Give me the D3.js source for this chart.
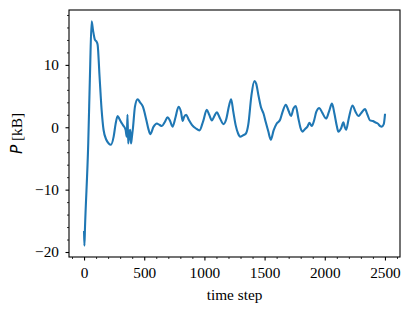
<!DOCTYPE html>
<html>
<head>
<meta charset="utf-8">
<script src="https://cdn.jsdelivr.net/npm/d3@7"></script>
<style>
  html, body { margin: 0; padding: 0; background: #fff; }
  svg { display: block; }
</style>
</head>
<body>
<div id="chart"></div>
<script>
// time steps and pressure (kB)
const steps = [0, 3, 8, 35, 50, 63, 75, 91, 105, 113, 129, 146, 162, 185, 205, 223, 246, 262, 279, 295,
  306, 325, 345, 355, 361, 367, 375, 384, 390, 398, 406, 423, 445, 465, 489, 517, 535, 550, 578, 605,
  625, 647, 670, 694, 715, 735, 760, 785, 805, 820, 830, 849, 870, 896, 930, 959, 990, 1020, 1040, 1062,
  1083, 1103, 1130, 1158, 1180, 1205, 1222, 1240, 1260, 1280, 1297, 1320, 1345, 1365, 1390, 1415, 1430, 1450, 1470, 1491,
  1510, 1530, 1552, 1575, 1601, 1629, 1650, 1676, 1700, 1720, 1740, 1759, 1780, 1800, 1814, 1835, 1856, 1872, 1892, 1910,
  1930, 1955, 1980, 2011, 2035, 2060, 2080, 2100, 2113, 2135, 2155, 2165, 2177, 2200, 2230, 2255, 2279, 2300, 2334, 2355,
  2376, 2400, 2418, 2440, 2460, 2473, 2490, 2500];
const pressure = [-16.8, -19.0, -16.0, -2.5, 9.0, 17.0, 15.5, 14.0, 13.7, 13.2, 8.1, 2.8, -0.4, -2.0, -2.6, -2.8, -1.5, 0.5, 1.8, 1.3,
  0.9, 0.3, -0.4, -1.5, 2.0, -2.6, -1.0, -0.4, -2.6, -1.5, -0.2, 3.3, 4.5, 4.0, 3.3, 1.2, -0.3, -1.1, 0.1, 0.6,
  0.4, 0.2, 0.8, 1.6, 1.0, 0.1, 1.6, 3.3, 2.5, 1.0, 1.6, 2.0, 1.2, 0.4, -0.2, -0.5, 1.0, 2.8, 2.0, 1.1,
  1.8, 2.4, 1.4, 0.5, 1.2, 3.5, 4.5, 2.5, 0.3, -1.0, -1.5, -1.3, -1.0, 0.5, 5.0, 7.4, 7.0, 5.0, 3.2, 2.2,
  0.8, -0.6, -2.0, -0.5, 0.6, 1.2, 2.5, 3.6, 2.6, 1.8, 3.0, 3.4, 1.5, -0.2, -0.7, -0.3, 0.1, 0.7, 0.2, 1.0,
  2.5, 3.1, 2.3, 1.4, 2.5, 3.8, 2.2, 0.2, -0.7, -0.2, 0.8, 0.1, -0.4, 1.5, 3.5, 2.5, 1.8, 2.2, 2.9, 2.0,
  1.1, 1.0, 0.8, 0.6, 0.2, 0.1, 0.5, 2.0];

const xTicks = [0, 500, 1000, 1500, 2000, 2500];
const yTicks = [-20, -10, 0, 10];

const width = 412, height = 314;
const margin = { left: 69, right: 12, top: 10, bottom: 57 };
const FONT = '"Liberation Serif", "DejaVu Serif", serif';
const FSIZE = 15.3;

const svg = d3.select('#chart').append('svg').attr('width', width).attr('height', height);

const x = d3.scaleLinear().domain([-125, 2625]).range([margin.left, width - margin.right]);
const y = d3.scaleLinear().domain([-20.8, 18.8]).range([height - margin.bottom, margin.top]);

const data = steps.map((s, i) => [s, pressure[i]]);
const fmt = d3.format('d');

// d3 puts sans-serif / 10px on the axis group, override it
const styleAxis = (g, w) => {
  g.attr('font-family', FONT).attr('font-size', FSIZE);
  g.select('.domain').remove();
  g.selectAll('line').attr('stroke-width', w);
  g.selectAll('text').attr('fill', '#000').style('font-family', FONT).style('font-size', FSIZE + 'px');
};

// minor ticks first so the major ones sit on top
const xMinor = d3.range(-100, 2601, 100).filter((v) => v % 500 !== 0);
const yMinor = d3.range(-20, 19, 2).filter((v) => v % 10 !== 0);

svg.append('g')
  .attr('transform', `translate(0,${height - margin.bottom})`)
  .call(d3.axisBottom(x).tickValues(xMinor).tickSize(2).tickFormat(''))
  .call((g) => styleAxis(g, 0.8));

svg.append('g')
  .attr('transform', `translate(${margin.left},0)`)
  .call(d3.axisLeft(y).tickValues(yMinor).tickSize(2).tickFormat(''))
  .call((g) => styleAxis(g, 0.8));

svg.append('g')
  .attr('transform', `translate(0,${height - margin.bottom})`)
  .call(d3.axisBottom(x).tickValues(xTicks).tickFormat(fmt).tickSize(3.5).tickPadding(6.5).tickSizeOuter(0))
  .call((g) => styleAxis(g, 1.1));

svg.append('g')
  .attr('transform', `translate(${margin.left},0)`)
  .call(d3.axisLeft(y).tickValues(yTicks).tickFormat(fmt).tickSize(3.5).tickPadding(6.5).tickSizeOuter(0))
  .call((g) => styleAxis(g, 1.1));

// clip so the line stays inside the frame
svg.append('clipPath').attr('id', 'plot-clip')
  .append('rect')
  .attr('x', margin.left).attr('y', margin.top)
  .attr('width', width - margin.left - margin.right)
  .attr('height', height - margin.top - margin.bottom);

const line = d3.line()
  .x((d) => x(d[0]))
  .y((d) => y(d[1]))
  .curve(d3.curveMonotoneX);

svg.append('path')
  .datum(data)
  .attr('clip-path', 'url(#plot-clip)')
  .attr('fill', 'none')
  .attr('stroke', '#1f77b4')
  .attr('stroke-width', 2.1)
  .attr('stroke-linejoin', 'round')
  .attr('stroke-linecap', 'square')
  .attr('d', line);

// frame
svg.append('rect')
  .attr('x', margin.left).attr('y', margin.top)
  .attr('width', width - margin.left - margin.right)
  .attr('height', height - margin.top - margin.bottom)
  .attr('fill', 'none')
  .attr('stroke', '#000')
  .attr('stroke-width', 1.1);

// axis labels
svg.append('text')
  .attr('x', (margin.left + width - margin.right) / 2)
  .attr('y', 300)
  .attr('text-anchor', 'middle')
  .style('font-family', FONT)
  .style('font-size', FSIZE + 'px')
  .text('time step');

const yl = svg.append('text')
  .attr('transform', `translate(22,${(margin.top + height - margin.bottom) / 2}) rotate(-90)`)
  .attr('text-anchor', 'middle')
  .style('font-family', FONT)
  .style('font-size', FSIZE + 'px');
yl.append('tspan').style('font-style', 'italic').style('font-family', '"DejaVu Sans"').text('P');
yl.append('tspan').text(' [kB]');
</script>
</body>
</html>
